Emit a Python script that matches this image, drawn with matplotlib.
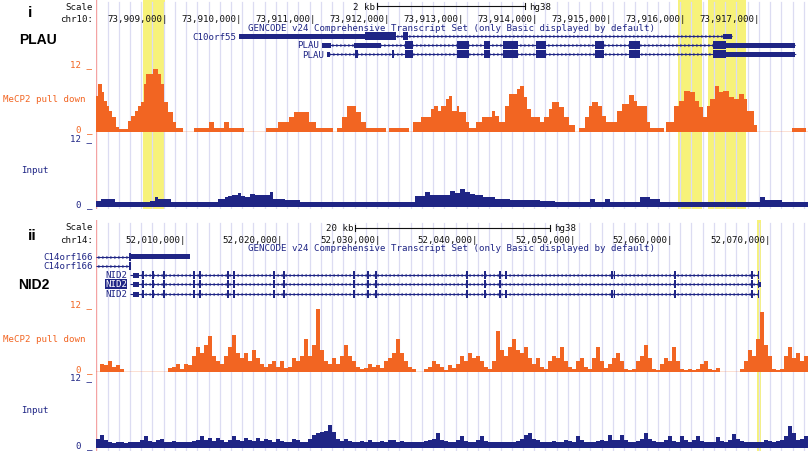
import numpy as np
import matplotlib.pyplot as plt
from matplotlib import transforms

ORANGE = '#f26522'
NAVY = '#1f2585'
GUIDE = '#dcdcf2'
YELLOW = '#f7f27a'
EDGE = '#f4a3a3'
MONO = 'DejaVu Sans Mono'

# ---------------- panel i : PLAU, chr10 ----------------
plau_start = 73908068
plau_end = 73917680
plau_ticks = [73909000, 73910000, 73911000, 73912000, 73913000,
              73914000, 73915000, 73916000, 73917000]
plau_scale = (73911862, 73913862)
plau_highlights = [(73908703, 73909000), (73915921, 73916249), (73916330, 73916839)]

# MeCP2 pull down, step starts (bp from plau_start) and values
plau_mecp2_pos = [0, 22, 81, 112, 144, 180, 216, 270, 306, 428, 472, 531, 562, 608, 652, 675,
                  765, 832, 878, 922, 968, 1035, 1080, 1170, 1328, 1530, 1598, 1732, 1791, 2002,
                  2295, 2452, 2610, 2678, 2880, 2970, 3204, 3249, 3321, 3384, 3510, 3578, 3645,
                  3915, 3951, 4221, 4275, 4388, 4522, 4568, 4612, 4658, 4725, 4770,
                  4806, 4874, 4905, 4995, 5040, 5130, 5211, 5346, 5391, 5436, 5517, 5580, 5684,
                  5728, 5774, 5818, 5877, 5998, 6044, 6111, 6156, 6246, 6314, 6381, 6462, 6516,
                  6606, 6651, 6696, 6777, 6831, 6885, 7034, 7101, 7191, 7258, 7304, 7438, 7484,
                  7664, 7695, 7798, 7866, 7934, 8024, 8082, 8145, 8190, 8248, 8294, 8361, 8406,
                  8460, 8541, 8608, 8676, 8744, 8788, 8878, 8924, 9396, 9585]
plau_mecp2_val = [6.5, 8.7, 7.2, 5.7, 4.8, 3.9, 2.7, 0.85, 0.5, 2.0, 3.0, 3.9, 4.8, 5.4, 8.7, 10.5,
                  11.5, 10.5, 8.7, 5.4, 3.6, 1.8, 0.7, 0, 0.7, 1.8, 0.7, 1.8, 0.7, 0,
                  0.7, 1.8, 2.7, 3.7, 1.8, 0.7, 0, 0.7, 2.7, 4.8, 3.6, 1.8, 0.7,
                  0, 0.7, 0, 1.8, 2.7, 4.2, 4.8, 3.9, 4.8, 6.0, 6.6,
                  3.9, 4.8, 3.7, 1.8, 0.7, 1.8, 2.7, 3.9, 3.0, 1.8, 4.8, 6.9, 7.8,
                  8.4, 6.3, 4.2, 2.7, 1.8, 2.7, 4.2, 5.5, 4.5, 2.7, 1.2, 0, 0.7,
                  2.7, 4.8, 5.5, 4.8, 3.0, 1.8, 3.9, 5.1, 6.7, 5.7, 4.8, 1.8, 0.7,
                  0, 1.8, 4.8, 5.7, 7.5, 7.2, 5.7, 4.5, 2.7, 4.8, 6.0, 8.4, 7.2,
                  7.5, 6.3, 6.0, 6.9, 6.0, 3.9, 1.2, 0, 0.7, 0]

plau_input_pos = [0, 68, 257, 567, 729, 797, 837, 864, 1013, 1647, 1742, 1782, 1836, 1917, 1958,
                  2012, 2079, 2147, 2349, 2390, 2552, 2754, 4307, 4442, 4509, 4779, 4847, 4914,
                  4982, 5049, 5117, 5225, 5387, 5589, 5994, 6197, 6669, 6737, 6872, 6939, 7344,
                  7479, 7614, 8964, 9032, 9261]
plau_input_val = [1.0, 1.44, 0.8, 0.96, 1.08, 1.8, 1.38, 1.5, 0.96, 1.38, 1.68, 2.0, 2.16, 2.5, 2.0,
                  1.8, 2.3, 2.16, 2.7, 1.38, 1.2, 0.96, 2.0, 2.6, 2.1, 2.75, 2.4, 3.2,
                  2.6, 2.3, 2.1, 1.7, 1.5, 1.3, 1.08, 0.9, 1.38, 0.96, 1.38, 0.96, 1.8,
                  1.38, 0.96, 1.8, 1.3, 0.96]

# transcripts (bp from plau_start): name, row, line extent, blocks (start, end, kind)
plau_genes = [
    ('C10orf55', 37, (1930, 8586), [(1930, 3632, 'u'), (3632, 4050, 'c'), (4145, 4212, 'c'),
                                     (8465, 8586, 'u')]),
    ('PLAU', 46, (3051, 9437), [(3051, 3172, 'u'), (3483, 3848, 'u'), (4172, 4280, 'c'),
                                 (4874, 5036, 'c'), (5238, 5319, 'c'), (5495, 5697, 'c'),
                                 (5940, 6075, 'c'), (6737, 6858, 'c'), (7196, 7344, 'c'),
                                 (8330, 8505, 'c'), (8505, 9437, 'u')]),
    ('PLAU', 55, (3119, 9437), [(3119, 3159, 'u'), (3497, 3537, 'c'), (3996, 4023, 'c'),
                                 (4172, 4280, 'c'), (4874, 5036, 'c'), (5238, 5319, 'c'),
                                 (5495, 5697, 'c'), (5940, 6075, 'c'), (6737, 6858, 'c'),
                                 (7196, 7344, 'c'), (8330, 8505, 'c'), (8505, 9437, 'u')]),
]

# ---------------- panel ii : NID2, chr14 ----------------
nid2_start = 52001077
nid2_end = 52074103
nid2_ticks = [52010000, 52020000, 52030000, 52040000, 52050000, 52060000, 52070000]
nid2_scale = (52027650, 52047650)
nid2_highlights = [(52068865, 52069275)]

# signals in 410 bp bins from nid2_start
nid2_bin = 410
nid2_mecp2 = [0, 1.5, 1.2, 2.0, 1.0, 1.2, 0.5, 0, 0, 0,
              0, 0, 0, 0, 0, 0, 0, 0, 0.8, 1.0,
              1.5, 0.5, 1.5, 1.2, 3.0, 4.5, 3.5, 5.0, 6.5, 3.0,
              2.0, 1.5, 3.0, 4.5, 6.8, 3.5, 2.5, 3.5, 2.0, 4.0,
              2.5, 1.5, 1.0, 1.5, 2.0, 1.0, 2.0, 0.8, 1.0, 2.5,
              2.0, 3.0, 6.0, 3.0, 5.0, 11.5, 4.0, 2.0, 1.5, 2.5,
              1.5, 3.0, 5.0, 3.0, 2.0, 1.0, 0.5, 0.8, 1.5, 1.0,
              1.2, 0.8, 2.0, 2.5, 3.5, 6.0, 3.5, 2.0, 1.0, 0.5,
              0, 0, 0.5, 1.0, 2.0, 1.5, 1.0, 0.3, 1.2, 0.8,
              1.5, 3.0, 2.0, 3.5, 2.5, 3.0, 2.0, 1.0, 0.5, 2.0,
              7.5, 4.0, 3.0, 4.5, 6.0, 4.0, 3.5, 4.5, 2.5, 1.5,
              2.5, 1.0, 0.5, 2.0, 3.0, 2.5, 4.5, 2.0, 1.0, 0.5,
              2.0, 2.5, 1.0, 0.5, 2.5, 4.5, 2.0, 0.8, 1.5, 2.5,
              3.5, 2.0, 0.5, 0.3, 0.5, 2.0, 3.0, 5.0, 2.5, 0.5,
              0.3, 1.5, 2.5, 2.0, 4.5, 2.0, 0.5, 0.3, 0.5, 0.3,
              0.5, 1.5, 2.0, 0.5, 0.3, 0.8, 0, 0, 0, 0,
              0, 0.5, 2.0, 4.0, 3.0, 6.0, 11.0, 5.0, 3.0, 0.5,
              0.3, 0.5, 3.0, 4.5, 2.5, 3.5, 2.0, 3.0]
nid2_input = [1.5, 2.3, 1.3, 1.0, 0.9, 1.0, 1.1, 0.9, 1.0, 1.0,
              1.1, 1.3, 2.0, 1.2, 1.0, 1.3, 1.6, 1.1, 1.0, 1.2,
              1.0, 1.1, 1.0, 1.0, 1.2, 1.4, 2.0, 1.3, 1.8, 1.2,
              1.8, 1.3, 1.1, 1.4, 2.0, 1.3, 1.2, 1.7, 1.3, 1.2,
              1.7, 1.2, 1.6, 1.3, 1.1, 1.6, 1.2, 1.0, 1.1, 1.6,
              1.3, 1.1, 1.0, 1.5, 2.2, 2.6, 2.8, 3.0, 3.9, 2.8,
              1.6, 1.2, 1.6, 1.2, 1.1, 1.0, 1.2, 1.0, 1.3, 1.1,
              1.0, 1.2, 1.0, 1.4, 1.3, 1.1, 1.2, 1.0, 1.1, 1.0,
              1.0, 1.1, 1.2, 1.3, 1.5, 2.5, 1.4, 1.2, 1.0, 1.1,
              1.3, 2.0, 1.2, 1.1, 1.0, 1.3, 2.0, 1.2, 1.0, 1.0,
              1.0, 1.1, 1.0, 1.0, 1.1, 1.2, 1.5, 2.2, 2.5, 1.6,
              1.3, 1.1, 1.0, 1.0, 1.2, 1.1, 1.0, 1.4, 1.2, 1.0,
              2.0, 1.3, 1.1, 1.0, 1.1, 1.2, 1.3, 1.2, 2.2, 1.3,
              1.4, 2.3, 1.3, 1.1, 1.0, 1.2, 1.5, 2.5, 1.6, 1.2,
              1.1, 1.0, 1.3, 2.0, 1.2, 1.1, 2.0, 1.3, 1.1, 1.3,
              2.0, 1.2, 1.0, 1.1, 1.0, 1.9, 1.2, 1.1, 1.3, 2.4,
              1.5, 1.2, 1.0, 1.1, 1.0, 1.0, 1.1, 1.3, 1.2, 1.1,
              1.2, 1.3, 2.0, 3.8, 2.5, 1.3, 1.5, 2.0]

# transcripts (kb from nid2_start)
nid2_exons = [4.72, 5.75, 6.87, 9.95, 10.57, 13.44, 14.06, 18.16, 19.19, 26.37, 27.80, 28.63,
              37.96, 39.81, 41.35, 41.96, 52.84, 53.10, 59.30, 67.20, 67.85]
nid2_genes = [
    ('C14orf166', 257.5, (0.0, 3.39), [(3.39, 3.59, 'c'), (3.59, 9.64, 'u')]),
    ('C14orf166', 267, (0.0, 3.39), [(3.39, 3.59, 'c')]),
    ('NID2', 276, (3.49, 67.92), [(3.80, 4.41, 'u')] + [(e, e + 0.16, 'c') for e in nid2_exons]),
    ('NID2', 285, (3.49, 67.92), [(3.80, 4.41, 'u')] + [(e, e + 0.16, 'c') for e in nid2_exons
                                                         if e not in (52.84, 53.10, 41.96)]
     + [(67.85, 68.25, 'u')]),
    ('NID2', 295, (3.49, 67.92), [(3.80, 4.41, 'u')] + [(e, e + 0.16, 'c') for e in nid2_exons]),
]

W, H = 810, 452
X0, X1 = 96, 808
fig = plt.figure(figsize=(W / 100, H / 100), dpi=100)
fig.patch.set_facecolor('white')


def add_ax(y0, y1):
    ax = fig.add_axes([X0 / W, 1 - y1 / H, (X1 - X0) / W, (y1 - y0) / H])
    ax.set_axis_off()
    ax.patch.set_alpha(0)
    return ax


def ftext(x, y, s, **kw):
    kw.setdefault('va', 'center')
    fig.text(x / W, 1 - y / H, s, **kw)


def steps(pos, val, end):
    x = np.append(pos, end)
    y = np.append(val, val[-1])
    return x, y


def draw_panel(top, bot, start, end, ticks, scale, highlights, genes, gene_rows,
               mecp2_xy, input_xy, mecp2_rows, input_rows, chrom, tick_y, scale_y, gencode_y,
               rel_unit, strand):
    bp_px = (end - start) / (X1 - X0)
    # background: guides, highlights, left edge
    bg = add_ax(top, bot)
    bg.set_xlim(start, end)
    bg.set_ylim(0, 1)
    for a, b in highlights:
        bg.axvspan(a, b, color=YELLOW, lw=0, zorder=0)
    for gx in start + (np.arange(107.5, X1, 11.23) - X0) * bp_px:
        bg.axvline(gx, ymax=0.985, color=GUIDE, lw=0.9, zorder=1)
    bg.axvline(start, color=EDGE, lw=1.0, zorder=2)

    # ruler + genes
    g = add_ax(gene_rows[0], gene_rows[1])
    g.set_xlim(start, end)
    g.set_ylim(gene_rows[1], gene_rows[0])
    tr = transforms.offset_copy(g.transData, fig=fig, x=2.75, y=0, units='dots')
    for t in ticks:
        g.text(t, tick_y, f'{t:,}|', ha='right', va='center', family=MONO, fontsize=6.6,
               color='#111111', transform=tr)
    s0, s1 = scale
    g.plot([s0, s1], [scale_y, scale_y], color='#111111', lw=0.8)
    g.plot([s0, s0], [scale_y - 3, scale_y + 3], color='#111111', lw=0.8)
    g.plot([s1, s1], [scale_y - 3, scale_y + 3], color='#111111', lw=0.8)
    lbl = f'{round((s1 - s0) / 1000)} kb'
    g.text(s0 - 2 * bp_px, scale_y, lbl, ha='right', va='center', family=MONO, fontsize=6.6,
           color='#111111')
    g.text(s1 + 4 * bp_px, scale_y, 'hg38', ha='left', va='center', family=MONO, fontsize=6.6,
           color='#111111')
    g.text((start + end) / 2, gencode_y,
           'GENCODE v24 Comprehensive Transcript Set (only Basic displayed by default)',
           ha='center', va='center', family=MONO, fontsize=6.6, color=NAVY)
    for i, (name, row, (l0, l1), blocks) in enumerate(genes):
        l0 = start + l0 * rel_unit
        l1 = start + l1 * rel_unit
        g.plot([l0, l1], [row, row], color=NAVY, lw=0.8, solid_capstyle='butt')
        ch = np.arange(l0 + 3 * bp_px, l1, 4 * bp_px)
        g.plot(ch, np.full(len(ch), row), ls='none', marker=strand[i], ms=2.6, mew=0.6,
               color=NAVY)
        for a, b, kind in blocks:
            hh = 8 if kind == 'c' else 5
            a = start + a * rel_unit
            b = start + b * rel_unit
            g.broken_barh([(a, max(b - a, 1.2 * bp_px))], (row - hh / 2, hh), color=NAVY, lw=0)
        first = start + min(blk[0] for blk in blocks) * rel_unit
        lx = min(l0, first) - 3 * bp_px
        if name == 'NID2' and row == 285:
            g.text(lx, row, name, ha='right', va='center', family=MONO, fontsize=6.6,
                   color='white', bbox=dict(boxstyle='square,pad=0.05', fc=NAVY, ec='none'))
        else:
            g.text(lx, row, name, ha='right', va='center', family=MONO, fontsize=6.6,
                   color=NAVY)

    # signals
    m = add_ax(*mecp2_rows)
    m.set_xlim(start, end)
    m.set_ylim(0, 12)
    x, y = mecp2_xy
    m.fill_between(x, 0, y, step='post', color=ORANGE, lw=0)
    m.axhline(0.08, color=ORANGE, lw=1.0)
    n = add_ax(*input_rows)
    n.set_xlim(start, end)
    n.set_ylim(0, 12)
    x, y = input_xy
    n.fill_between(x, 0, y, step='post', color=NAVY, lw=0)
    n.axhline(0.1, color=NAVY, lw=1.0)

    # left labels
    ftext(93, top + 7, 'Scale', ha='right', family=MONO, fontsize=6.6, color='#111111')
    ftext(93, tick_y, chrom, ha='right', family=MONO, fontsize=6.6, color='#111111')
    ftext(92, mecp2_rows[0] - 2, '12 _', ha='right', family=MONO, fontsize=6.6, color=ORANGE)
    ftext(92, mecp2_rows[1] - 3, '0 _', ha='right', family=MONO, fontsize=6.6, color=ORANGE)
    ftext(92, input_rows[0] - 1, '12 _', ha='right', family=MONO, fontsize=6.6, color=NAVY)
    ftext(92, input_rows[1] - 3, '0 _', ha='right', family=MONO, fontsize=6.6, color=NAVY)
    ftext(3, (mecp2_rows[0] + mecp2_rows[1]) / 2, 'MeCP2 pull down', ha='left', family=MONO,
          fontsize=6.6, color=ORANGE)
    ftext(21, (input_rows[0] + input_rows[1]) / 2 - 3, 'Input', ha='left', family=MONO,
          fontsize=6.6, color=NAVY)


plau_m = steps(plau_start + np.array(plau_mecp2_pos), np.array(plau_mecp2_val), plau_end)
plau_i = steps(plau_start + np.array(plau_input_pos), np.array(plau_input_val), plau_end)
draw_panel(0, 210, plau_start, plau_end, plau_ticks, plau_scale, plau_highlights, plau_genes,
           (0, 64), plau_m, plau_i, (67, 133), (140, 208), 'chr10:', 20, 7.3, 28.3, 1,
           ['4', '4', '4'])

nid2_pos = nid2_start + np.arange(len(nid2_mecp2)) * nid2_bin
nid2_m = steps(nid2_pos, np.array(nid2_mecp2), nid2_end)
nid2_i = steps(nid2_pos, np.array(nid2_input), nid2_end)
draw_panel(221, 452, nid2_start, nid2_end, nid2_ticks, nid2_scale, nid2_highlights, nid2_genes,
           (220, 304), nid2_m, nid2_i, (307, 373), (379, 449), 'chr14:', 240.5, 229, 248.3, 1000,
           ['4', '4', '3', '3', '3'])

# panel / gene labels
ftext(30, 13, 'i', ha='center', family='Liberation Sans', weight='bold', fontsize=11)
ftext(38, 40, 'PLAU', ha='center', family='Liberation Sans', weight='bold', fontsize=10)
ftext(32, 236.5, 'ii', ha='center', family='Liberation Sans', weight='bold', fontsize=11)
ftext(34, 285, 'NID2', ha='center', family='Liberation Sans', weight='bold', fontsize=10)

fig.savefig('out.png', dpi=100, facecolor='white')
